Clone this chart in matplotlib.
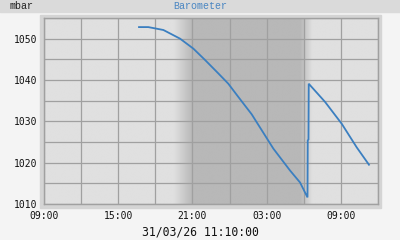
import numpy as np
import matplotlib.pyplot as plt
from matplotlib.colors import LinearSegmentedColormap
from matplotlib.patches import Rectangle

# ── Data (hours after 09:00 on 30/03, pressure in mbar) ──
hours = [7.68, 8.43, 9.65, 11.0, 11.4, 12.07, 13.0, 14.09, 14.9, 15.71,
         16.79, 17.19, 18.54, 19.89, 20.7, 21.30, 21.32, 21.38, 21.40,
         22.72, 24.07, 25.28, 26.27]
pressure = [1052.8, 1052.8, 1052.1, 1050.0, 1049.1, 1047.6, 1044.9, 1041.6,
            1039.1, 1035.9, 1031.7, 1029.8, 1023.4, 1018.1, 1015.2, 1011.6,
            1025.4, 1025.6, 1039.1, 1034.7, 1029.4, 1023.7, 1019.5]

x_ticks = [0, 6, 12, 18, 24]
x_labels = ["09:00", "15:00", "21:00", "03:00", "09:00"]
y_labels = [1010, 1020, 1030, 1040, 1050]

# night shading (dusk ramp, dark, dawn ramp)
dusk = (10.5, 12.0)
dawn = (20.75, 21.7)

# ── Figure ──
fig = plt.figure(figsize=(4, 2.4), dpi=100, facecolor="#f4f4f4")

# title bar
fig.add_artist(Rectangle((0, 0.95), 1, 0.05, transform=fig.transFigure,
                         color="#dadada", zorder=-2))
# frame round the plot
fig.add_artist(Rectangle((0.1, 0.1333), 0.8525, 0.804, transform=fig.transFigure,
                         color="#d4d4d4", zorder=-2))

fig.text(0.025, 0.976, "mbar", family="Liberation Mono", fontsize=7.2,
         va="center", ha="left", color="#222222")
fig.text(0.5, 0.976, "Barometer", family="Liberation Mono", fontsize=7.2,
         va="center", ha="center", color="#4a86c2")
fig.text(0.5, 0.035, "31/03/26 11:10:00", family="DejaVu Sans Mono", fontsize=8.3,
         va="center", ha="center", color="#111111")

ax = fig.add_axes([0.11, 0.15, 0.835, 0.775])
ax.set_zorder(1)
ax.set_xlim(0, 27)
ax.set_ylim(1010, 1055)

# background with night shading
xs = np.linspace(0, 27, 1200)
shade = np.clip((xs - dusk[0]) / (dusk[1] - dusk[0]), 0, 1) * \
        np.clip((dawn[1] - xs) / (dawn[1] - dawn[0]), 0, 1)
cmap = LinearSegmentedColormap.from_list("night", ["#e0e0e0", "#b8b8b8"])
ax.imshow(shade[np.newaxis, :], cmap=cmap, vmin=0, vmax=1, aspect="auto",
          extent=[0, 27, 1010, 1055], zorder=0, interpolation="bilinear")

ax.plot(hours, pressure, color="#3b7fc0", linewidth=1.3, zorder=3,
        solid_joinstyle="miter")

ax.set_xticks(np.arange(0, 28, 3))
ax.set_xticklabels([x_labels[x_ticks.index(t)] if t in x_ticks else ""
                    for t in range(0, 28, 3)])
ax.set_yticks(np.arange(1010, 1056, 5))
ax.set_yticklabels([str(v) if v in y_labels else "" for v in range(1010, 1056, 5)])
for lab in ax.get_xticklabels() + ax.get_yticklabels():
    lab.set_family("DejaVu Sans Mono")
    lab.set_fontsize(7)
    lab.set_color("#111111")
ax.tick_params(axis="both", length=0)
ax.tick_params(axis="x", pad=5)
ax.tick_params(axis="y", pad=5)

ax.grid(True, color="#a0a0a0", linewidth=0.9, zorder=1)
ax.set_axisbelow(False)
for s in ax.spines.values():
    s.set_color("#a0a0a0")
    s.set_linewidth(1.0)

fig.savefig("out.png", dpi=100, facecolor=fig.get_facecolor())
